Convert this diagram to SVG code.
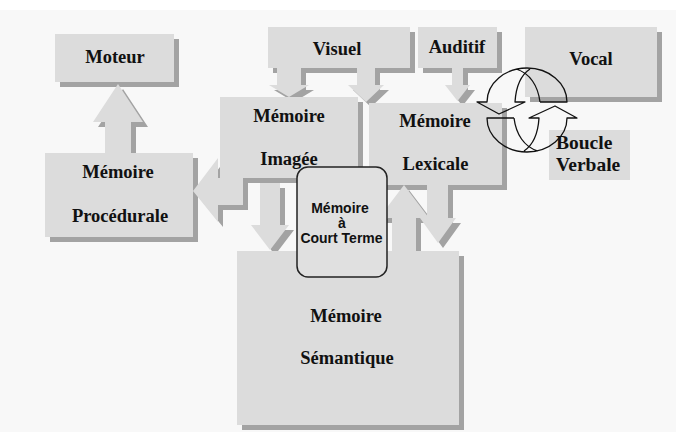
<svg xmlns="http://www.w3.org/2000/svg" xmlns:xlink="http://www.w3.org/1999/xlink" width="678" height="432" viewBox="0 0 678 432">
<style>
.bg{fill:#f8f8f8}
.sh{fill:#a3a3a3}
.box{fill:#dcdcdc}
.arr{fill:#dcdcdc}
.t{font-family:"Liberation Serif","Times New Roman",serif;font-weight:bold;font-size:18.5px;fill:#111;text-anchor:middle}
.tb{font-family:"Liberation Serif","Times New Roman",serif;font-weight:bold;font-size:19.5px;fill:#111}
.ts{font-family:"Liberation Sans",Arial,sans-serif;font-weight:bold;font-size:14px;fill:#111;text-anchor:middle}
.ct{fill:#e0e0e0;stroke:#222;stroke-width:1.5}
.loop{fill:none;stroke:#111;stroke-width:1.3;stroke-linejoin:round}
</style>
<defs>
<polygon id="a1" points="105,153 105,122 93,122 118,84 143,122 131,122 131,153"/>
<polygon id="a2" points="243,178 243,205 218,205 218,222 193,191 218,158 218,178"/>
<polygon id="a3" points="277,68 301,68 301,85 309,85 289,97 269,85 277,85"/>
<polygon id="a4" points="357,68 375,68 375,85 384,85 366,102 348,85 357,85"/>
<polygon id="a5" points="452,68 463,68 463,85 470,85 457.5,101 445,85 452,85"/>
<polygon id="a6" points="260,183 280,183 280,225 289,225 270,250 251,225 260,225"/>
<polygon id="a7" points="392,251 392,218 379,218 404,185 429,218 416,218 416,251"/>
<polygon id="a8" points="427,185 448,185 448,218 456,218 438,243 420,218 427,218"/>
<path id="curl" d="M 540 102 L 567 102 A 40 34 0 0 0 487 102 L 477 102 L 499 114 L 525 102 L 515 102 C 516 86 521 75 530 69 M 540 102 C 538 86 530 73 516 69"/>
</defs>
<rect x="0" y="0" width="678" height="432" fill="#ffffff"/>
<rect class="bg" x="0" y="10" width="676" height="422"/>

<g id="shadows">
<rect class="sh" x="60" y="39" width="119" height="48"/>
<rect class="sh" x="50" y="158" width="148" height="84"/>
<rect class="sh" x="273" y="32" width="142" height="41"/>
<rect class="sh" x="423" y="32" width="79" height="41"/>
<rect class="sh" x="530" y="32" width="132" height="70"/>
<rect class="sh" x="225" y="102" width="138" height="81"/>
<rect class="sh" x="374" y="108" width="133" height="82"/>
<rect class="sh" x="242" y="256" width="222" height="174"/>
</g>

<g id="connectors">
<g class="sh" transform="translate(5,5)">
<use xlink:href="#a1"/><use xlink:href="#a2"/><use xlink:href="#a3"/><use xlink:href="#a4"/>
<use xlink:href="#a5"/><use xlink:href="#a6"/><use xlink:href="#a7"/><use xlink:href="#a8"/>
</g>
<g class="arr">
<use xlink:href="#a1"/><use xlink:href="#a2"/><use xlink:href="#a3"/><use xlink:href="#a4"/>
<use xlink:href="#a5"/><use xlink:href="#a6"/><use xlink:href="#a7"/><use xlink:href="#a8"/>
</g>
</g>

<g id="moteur">
<rect class="box" x="55" y="34" width="119" height="48"/>
<text class="t" x="115" y="63">Moteur</text>
</g>
<g id="procedurale">
<rect class="box" x="45" y="153" width="148" height="84"/>
<text class="t" x="118" y="178">Mémoire</text>
<text class="t" x="120" y="222">Procédurale</text>
</g>
<g id="visuel">
<rect class="box" x="268" y="27" width="142" height="41"/>
<text class="t" x="337" y="55">Visuel</text>
</g>
<g id="auditif">
<rect class="box" x="418" y="27" width="79" height="41"/>
<text class="t" x="457" y="53">Auditif</text>
</g>
<g id="vocal">
<rect class="box" x="525" y="27" width="132" height="70"/>
<text class="t" x="591" y="65">Vocal</text>
</g>
<g id="imagee">
<rect class="box" x="220" y="97" width="138" height="81"/>
<text class="t" x="289" y="122">Mémoire</text>
<text class="t" x="289" y="165">Imagée</text>
</g>
<g id="lexicale">
<rect class="box" x="369" y="103" width="133" height="82"/>
<text class="t" x="435" y="127">Mémoire</text>
<text class="t" x="435.5" y="170">Lexicale</text>
</g>
<g id="semantique">
<rect class="box" x="237" y="251" width="222" height="174"/>
<text class="t" x="346" y="322">Mémoire</text>
<text class="t" x="347" y="364">Sémantique</text>
</g>
<g id="boucle-verbale">
<rect class="box" x="549" y="130" width="81" height="50"/>
<text class="tb" x="556" y="149">Boucle</text>
<text class="tb" x="556" y="171">Verbale</text>
</g>
<g id="court-terme">
<rect class="ct" x="297" y="167" width="90" height="110" rx="11" ry="11"/>
<text class="ts" x="340" y="213">Mémoire</text>
<text class="ts" x="342" y="228">à</text>
<text class="ts" x="341.5" y="243">Court Terme</text>
</g>

<g id="loop-connectors" class="loop">
<use xlink:href="#curl"/>
<use xlink:href="#curl" transform="rotate(180 527 110)"/>
</g>
</svg>
